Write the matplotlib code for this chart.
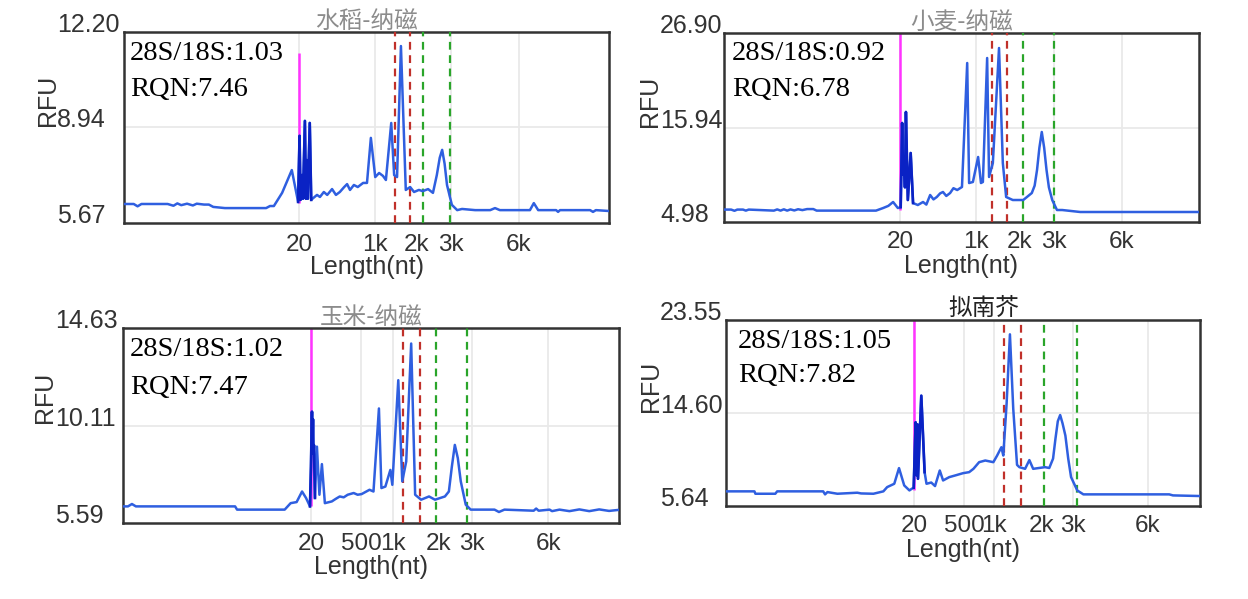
import numpy as np
import matplotlib
matplotlib.use('Agg')
import matplotlib.pyplot as plt

plt.rcParams['font.family'] = ['Liberation Sans', 'DejaVu Sans']

# ---- data (x = migration time, 0-100) ----
titles = ['水稻-纳磁', '小麦-纳磁', '玉米-纳磁', '拟南芥']
ratios = ['1.03', '0.92', '1.02', '1.05']
rqns = ['7.46', '6.78', '7.47', '7.82']

y_ticks = [[5.67, 8.94, 12.20],
           [4.98, 15.94, 26.90],
           [5.59, 10.11, 14.63],
           [5.64, 14.60, 23.55]]

x_labels = [['20', '1k', '2k', '3k', '6k'],
            ['20', '1k', '2k', '3k', '6k'],
            ['20', '500', '1k', '2k', '3k', '6k'],
            ['20', '500', '1k', '2k', '3k', '6k']]
x_ticks = [[36.1, 51.8, 60.4, 67.4, 81.4],
           [37.1, 53.0, 62.3, 69.4, 83.8],
           [37.9, 48.0, 54.4, 63.7, 70.4, 85.7],
           [39.7, 50.2, 56.5, 66.5, 73.2, 89.0]]

marker_pos = [36.1, 37.05, 37.9, 39.7]
marker_span = [(6.35, 11.48), (6.37, 26.90), (6.36, 14.63), (7.14, 23.55)]
red_lines = [(55.9, 59.0), (56.4, 59.6), (56.5, 59.9), (58.6, 62.2)]
green_lines = [(61.6, 67.2), (62.9, 69.5), (63.1, 69.4), (67.1, 74.1)]
dense_ranges = [(35.8, 38.7), (37.1, 39.9), (37.6, 38.8), (39.5, 42.0)]

rice_trace = [
    (0, 6.32), (2.0, 6.32), (2.8, 6.24), (3.6, 6.32), (9.0, 6.32), (10.2, 6.26),
    (11.0, 6.34), (11.8, 6.28), (13.0, 6.33), (14.2, 6.27), (15.0, 6.33), (16.5, 6.30),
    (17.5, 6.30), (18.4, 6.22), (20.8, 6.18), (29.3, 6.18), (30.1, 6.25), (30.9, 6.25),
    (32.6, 6.70), (34.6, 7.48), (35.9, 6.39), (36.2, 8.65), (36.4, 6.46), (36.7, 7.31),
    (36.9, 6.50), (37.3, 9.16), (37.5, 6.50), (37.7, 7.82), (37.9, 6.50), (38.3, 9.09),
    (38.6, 6.46), (39.0, 6.52), (39.8, 6.63), (40.4, 6.56), (41.2, 6.73), (41.9, 6.63),
    (42.9, 6.83), (43.7, 6.63), (44.5, 6.73), (45.4, 6.90), (46.0, 7.00), (46.6, 6.80),
    (47.4, 6.97), (48.2, 6.90), (49.3, 7.04), (50.1, 7.04), (50.9, 8.58), (51.8, 7.24),
    (52.6, 7.38), (53.4, 7.28), (54.0, 7.14), (55.1, 9.09), (55.7, 7.31), (56.3, 7.24),
    (57.1, 11.72), (58.1, 6.80), (59.0, 6.90), (59.8, 6.73), (60.8, 6.80), (61.6, 6.76),
    (62.7, 6.83), (63.7, 6.70), (64.5, 7.31), (65.1, 7.90), (65.6, 8.17), (66.1, 7.70),
    (66.6, 6.97), (67.6, 6.29), (68.7, 6.11), (69.7, 6.15), (72.4, 6.11), (75.5, 6.11),
    (76.5, 6.18), (77.5, 6.11), (83.7, 6.11), (84.5, 6.35), (85.4, 6.11), (89.1, 6.11),
    (89.5, 6.05), (89.9, 6.11), (96.1, 6.11), (96.7, 6.05), (97.3, 6.11), (100, 6.08)]

wheat_trace = [
    (0, 6.42), (1.5, 6.42), (2.2, 6.28), (2.8, 6.42), (4.0, 6.42), (4.6, 6.30),
    (5.2, 6.42), (10.5, 6.30), (11.2, 6.44), (11.9, 6.30), (12.6, 6.45), (13.3, 6.30),
    (14.0, 6.44), (14.8, 6.32), (15.6, 6.46), (16.5, 6.36), (17.5, 6.48), (18.8, 6.48),
    (19.5, 6.30), (32.0, 6.30), (33.5, 6.60), (34.6, 6.85), (35.6, 7.30), (36.6, 6.60),
    (37.2, 6.70), (37.5, 16.46), (37.7, 10.5), (37.9, 12.0), (38.1, 9.0), (38.3, 17.74),
    (38.7, 7.53), (39.3, 12.98), (39.8, 7.18), (40.8, 6.95), (41.9, 7.30), (42.6, 7.0),
    (43.4, 8.11), (44.1, 7.6), (44.8, 7.88), (45.5, 8.3), (46.1, 8.46), (46.8, 8.0),
    (47.6, 8.34), (48.3, 8.9), (49.1, 8.69), (50.1, 9.04), (51.2, 23.42), (51.6, 9.50),
    (52.4, 9.62), (53.5, 12.52), (54.1, 9.50), (54.5, 9.62), (55.4, 24.00), (55.8, 10.2),
    (56.6, 11.82), (57.9, 25.16), (58.7, 11.82), (59.4, 7.88), (60.8, 7.53), (63.0, 7.53),
    (64.8, 8.34), (65.4, 9.2), (65.9, 11.01), (66.4, 13.6), (66.9, 15.42), (67.4, 13.6),
    (67.9, 11.01), (68.4, 9.0), (69.1, 7.53), (70.1, 6.37), (71.2, 6.37), (75.0, 6.14),
    (100, 6.14)]

maize_trace = [
    (0, 6.36), (1.0, 6.36), (1.8, 6.47), (2.6, 6.36), (22.6, 6.36), (23.0, 6.21),
    (32.6, 6.21), (33.8, 6.51), (35.0, 6.56), (36.1, 7.05), (36.9, 6.75), (37.7, 6.36),
    (37.9, 8.2), (38.0, 9.6), (38.1, 10.75), (38.2, 9.0), (38.3, 10.4), (38.4, 8.8),
    (38.5, 9.2), (38.7, 6.75), (39.1, 9.13), (39.6, 6.90), (40.1, 8.32), (40.7, 6.51),
    (42.1, 6.59), (42.9, 6.71), (43.7, 6.82), (44.5, 6.78), (45.3, 6.90), (46.5, 6.98),
    (47.3, 6.90), (48.1, 6.93), (49.7, 7.13), (50.5, 7.05), (51.6, 10.90), (52.1, 7.21),
    (52.9, 7.28), (53.9, 8.05), (54.3, 7.36), (55.5, 12.21), (56.3, 7.52), (57.1, 8.44),
    (58.1, 13.91), (58.9, 6.90), (60.1, 6.67), (61.7, 6.82), (62.9, 6.67), (64.9, 6.82),
    (65.7, 7.05), (66.3, 8.2), (66.9, 9.21), (67.5, 8.6), (68.1, 7.52), (69.1, 6.44),
    (70.1, 6.21), (74.9, 6.21), (75.8, 6.10), (76.9, 6.21), (82.8, 6.16), (83.3, 6.26),
    (83.8, 6.16), (86.0, 6.21), (86.5, 6.14), (88.0, 6.21), (90.0, 6.14), (92.0, 6.22),
    (94.0, 6.14), (96.0, 6.22), (98.0, 6.15), (100, 6.20)]

arab_trace = [
    (0, 7.05), (6.0, 7.05), (6.2, 6.82), (10.4, 6.82), (10.8, 7.05), (20.5, 7.05),
    (20.9, 6.76), (21.4, 6.98), (23.5, 6.82), (27.7, 6.92), (28.5, 6.85), (31.1, 6.82),
    (33.2, 7.05), (34.0, 7.46), (35.5, 7.78), (36.5, 9.29), (37.6, 7.62), (38.7, 7.14),
    (39.2, 7.30), (39.6, 7.40), (40.0, 13.70), (40.2, 8.6), (40.4, 13.5), (40.5, 8.26),
    (41.2, 16.26), (41.9, 8.90), (42.3, 7.78), (43.3, 7.90), (44.1, 7.56), (45.1, 9.06),
    (45.8, 8.10), (47.1, 8.42), (48.5, 8.60), (50.0, 8.80), (51.3, 8.90), (52.2, 9.22),
    (53.4, 9.86), (54.7, 10.02), (56.4, 9.86), (57.2, 10.50), (58.1, 11.30), (58.5, 10.50),
    (59.2, 15.5), (59.9, 22.17), (60.6, 15.0), (61.4, 9.60), (61.9, 9.38), (63.1, 9.22),
    (64.0, 10.06), (64.8, 9.22), (67.3, 9.38), (68.2, 9.30), (69.0, 10.2), (69.5, 12.10),
    (70.0, 13.8), (70.5, 14.40), (71.0, 13.6), (71.6, 12.42), (72.2, 10.2), (72.8, 8.42),
    (74.1, 7.14), (75.4, 6.76), (93.5, 6.76), (94.3, 6.66), (100, 6.60)]

traces = [rice_trace, wheat_trace, maize_trace, arab_trace]

# ---- layout (pixel boxes in the 1248x599 picture: left, top, right, bottom) ----
W, H = 1248, 599
boxes = [(124, 32, 609, 223), (724, 33, 1199, 222), (123, 328, 619, 523), (726, 320, 1200, 506)]
ylab_left = [57, 660, 55, 660]
xlab_pad = [11, 9, 10, 9]
rfu_off = [(-76, 27), (-74, 26), (-78, 28), (-75, 27)]
title_off = [(0, 11), (0, 11), (0, 11), (21, 12)]
note_off = [(6, 22, 58), (8, 21, 56), (7, 22, 59), (12, 21, 56)]
title_colors = ['#8c8c8c', '#8c8c8c', '#8c8c8c', '#222222']

fig = plt.figure(figsize=(W / 100, H / 100), dpi=100)

for i in range(4):
    l, t, r, b = boxes[i]
    ax = fig.add_axes([l / W, 1 - b / H, (r - l) / W, (b - t) / H])
    ymin, ymid, ymax = y_ticks[i]
    ax.set_xlim(0, 100)
    ax.set_ylim(ymin, ymax)

    # grid
    ax.axhline(ymid, color='#e9e9e9', lw=1.3, zorder=0)
    for pos, lab in zip(x_ticks[i], x_labels[i]):
        if lab != '2k':
            ax.axvline(pos, color='#e9e9e9', lw=1.3, zorder=0)

    # marker lines
    ax.vlines(marker_pos[i], *marker_span[i], color='#ff33ff', lw=1.8, zorder=2)
    for xv in red_lines[i]:
        ax.axvline(xv, color='#c0302a', lw=1.6, ls=(0, (3.5, 2.5)), zorder=3)
    for xv in green_lines[i]:
        ax.axvline(xv, color='#2aa52a', lw=1.6, ls=(0, (3.5, 2.5)), zorder=3)

    # trace
    xs, ys = np.array(traces[i]).T
    ax.plot(xs, ys, color='#2f5fe0', lw=1.8, zorder=4)
    lo, hi = dense_ranges[i]
    m = (xs >= lo) & (xs <= hi)
    ax.plot(xs[m], ys[m], color='#0a22c4', lw=1.9, zorder=5)

    # axes styling
    for sp in ax.spines.values():
        sp.set_color('#333333')
        sp.set_linewidth(1.8)
    ax.set_yticks(y_ticks[i], [f'{v:.2f}' for v in y_ticks[i]])
    ax.tick_params(axis='y', length=0, pad=(l - ylab_left[i]) * 0.72,
                   labelsize=18, labelcolor='#333333')
    for lab in ax.get_yticklabels():
        lab.set_horizontalalignment('left')
        lab.set_verticalalignment('baseline')
    ax.set_xticks(x_ticks[i], x_labels[i])
    ax.tick_params(axis='x', length=0, pad=xlab_pad[i] * 0.72,
                   labelsize=17.5, labelcolor='#333333')

    ax.annotate('Length(nt)', xy=(0.5, 0), xycoords='axes fraction',
                xytext=(0, -44), textcoords='offset pixels',
                ha='center', va='center', fontsize=18, color='#333333')
    ax.annotate('RFU', xy=(0, 0.5), xycoords='axes fraction',
                xytext=rfu_off[i], textcoords='offset pixels', rotation=90,
                ha='center', va='center', fontsize=18, color='#333333')
    ax.annotate(titles[i], xy=(0.5, 1), xycoords='axes fraction',
                xytext=title_off[i], textcoords='offset pixels',
                ha='center', va='center', fontsize=17, color=title_colors[i],
                family=['Noto Sans CJK SC', 'DejaVu Sans'], zorder=1)

    dx, dy1, dy2 = note_off[i]
    ax.annotate(f'28S/18S:{ratios[i]}', xy=(0, 1), xycoords='axes fraction',
                xytext=(dx, -dy1), textcoords='offset pixels',
                ha='left', va='center', fontsize=20.5, family='Liberation Serif', color='black')
    ax.annotate(f'RQN:{rqns[i]}', xy=(0, 1), xycoords='axes fraction',
                xytext=(dx, -dy2), textcoords='offset pixels',
                ha='left', va='center', fontsize=20.5, family='Liberation Serif', color='black')

fig.savefig('out.png', dpi=100, facecolor='white')
